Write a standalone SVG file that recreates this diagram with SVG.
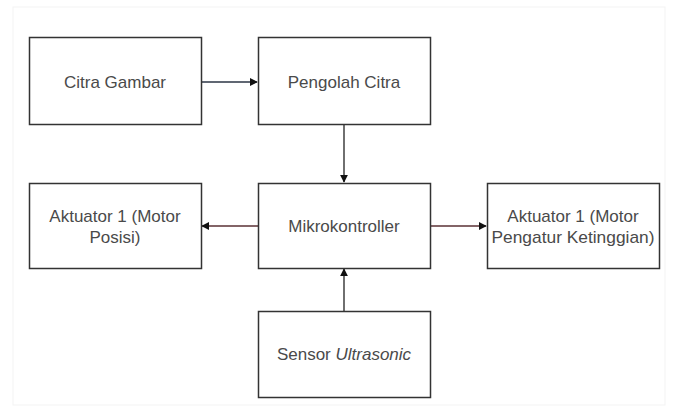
<svg xmlns="http://www.w3.org/2000/svg" width="675" height="411" viewBox="0 0 675 411">
<style>
.box{fill:#fff;stroke:#333;stroke-width:1.5}
.t{font-family:"Liberation Sans",Arial,sans-serif;font-size:17px;fill:#4a4a4a;text-anchor:middle}
.c{fill:none;stroke-width:1.3}
</style>
<defs>
<marker id="ah" viewBox="0 0 10 10" refX="9" refY="5" markerWidth="8" markerHeight="8" markerUnits="userSpaceOnUse" orient="auto">
<path d="M0,0 L10,5 L0,10 z" fill="#111"/>
</marker>
</defs>
<rect width="675" height="411" fill="#fff"/>
<rect x="13" y="7" width="652" height="398" fill="none" stroke="#f3f3f3" stroke-width="1"/>
<g id="connectors">
<line class="c" x1="202" y1="82" x2="257" y2="82" stroke="#2b3445" stroke-width="2.4" marker-end="url(#ah)"/>
<line class="c" x1="344" y1="125" x2="344" y2="182" stroke="#222" marker-end="url(#ah)"/>
<line class="c" x1="258" y1="226" x2="202" y2="226" stroke="#5a3035" marker-end="url(#ah)"/>
<line class="c" x1="430" y1="226" x2="486" y2="226" stroke="#5a3035" marker-end="url(#ah)"/>
<line class="c" x1="344" y1="311" x2="344" y2="269" stroke="#222" marker-end="url(#ah)"/>
</g>
<g id="citra-gambar"><rect class="box" x="29.5" y="37.5" width="172" height="87"/><text class="t" x="115" y="88">Citra Gambar</text></g>
<g id="pengolah-citra"><rect class="box" x="258.5" y="37.5" width="172" height="87"/><text class="t" x="344" y="88">Pengolah Citra</text></g>
<g id="mikrokontroller"><rect class="box" x="258.5" y="183.5" width="172" height="85"/><text class="t" x="344" y="232">Mikrokontroller</text></g>
<g id="aktuator-posisi"><rect class="box" x="29.5" y="183.5" width="172" height="85"/><text class="t" x="115" y="222">Aktuator 1 (Motor</text><text class="t" x="115" y="243">Posisi)</text></g>
<g id="aktuator-ketinggian"><rect class="box" x="487.5" y="183.5" width="172" height="85"/><text class="t" x="573" y="222">Aktuator 1 (Motor</text><text class="t" x="573" y="243" textLength="163" lengthAdjust="spacingAndGlyphs">Pengatur Ketinggian)</text></g>
<g id="sensor-ultrasonic"><rect class="box" x="258.5" y="311.5" width="172" height="86"/><text class="t" x="344" y="360">Sensor <tspan font-style="italic">Ultrasonic</tspan></text></g>
</svg>
